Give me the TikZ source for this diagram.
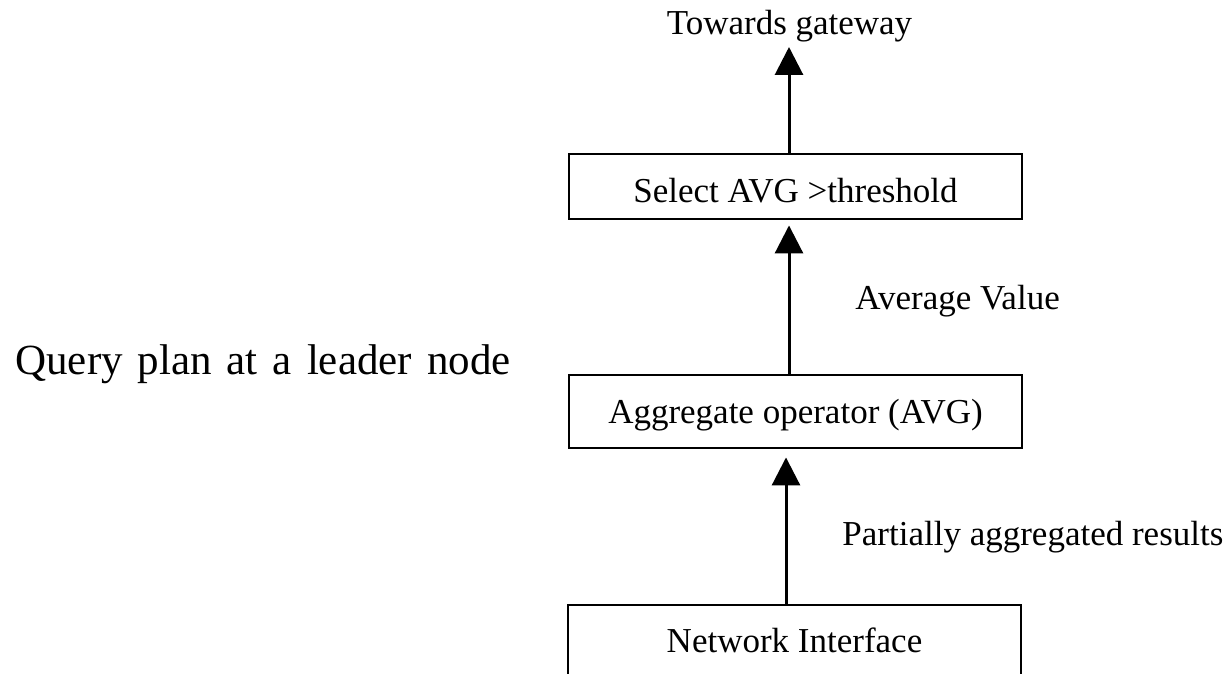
\documentclass[tikz,border=0pt]{standalone}
\usepackage{fontspec}
\setmainfont{Liberation Serif}
\usetikzlibrary{arrows.meta}
\tikzset{
  box/.style={draw, line width=1.45pt, inner sep=0pt, minimum width=226.5pt,
    text depth=0pt, font=\fontsize{17.5pt}{21pt}\selectfont},
  lbl/.style={inner sep=0pt, font=\fontsize{17.5pt}{21pt}\selectfont},
  arr/.style={line width=1.5pt, -{Triangle[length=14pt,width=14pt]}},
  side/.style={line width=1.45pt}
}
\begin{document}
\begin{tikzpicture}[x=0.5pt,y=-0.5pt]
\useasboundingbox (0,0) rectangle (1232,674);
\node[box, minimum height=32.5pt, text height=16.5pt] (sel) at (795.5,186.5) {Select AVG >threshold};
\node[box, minimum height=36.5pt, text height=11.5pt] (agg) at (795.5,411.5) {Aggregate operator (AVG)};
\node[box, draw=none, outer sep=0pt, minimum height=34.5pt, text height=12.5pt] (ni) at (794.5,639.5) {Network Interface};
\draw[side] (ni.south west) -- (ni.north west) -- (ni.north east) -- (ni.south east);
\node[lbl, anchor=base] (tw) at (789.5,35) {Towards gateway};
\coordinate (tip1) at (789,47);
\node[lbl, anchor=base west] (avg) at (855,309) {Average Value};
\node[lbl, anchor=base west] (par) at (842,545) {Partially aggregated results};
\node[inner sep=0pt, anchor=base west, font=\fontsize{21.5pt}{26pt}\selectfont] (q) at (15,374) {\spaceskip=7.5pt Query plan at a leader node};
\draw[arr] (sel.north -| tip1) -- (tip1);
\draw[arr] (agg.north -| tip1) -- ([yshift=-2.5pt]sel.south -| tip1);
\draw[arr] ([xshift=-1.5pt]ni.north -| tip1) -- ([xshift=-1.5pt,yshift=-4pt]agg.south -| tip1);
\end{tikzpicture}
\end{document}
